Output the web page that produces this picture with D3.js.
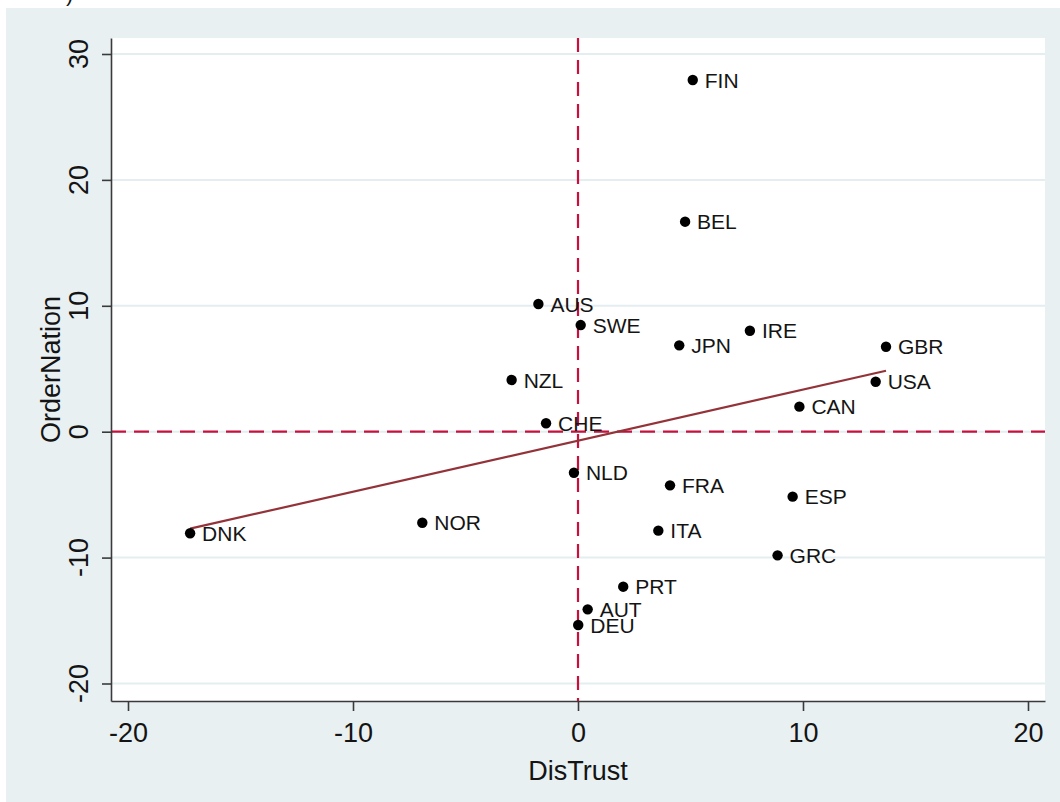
<!DOCTYPE html>
<html>
<head>
<meta charset="utf-8">
<script src="https://cdn.jsdelivr.net/npm/d3@7"></script>
<style>
  html, body { margin: 0; padding: 0; background: #ffffff; }
  svg { display: block; }
  text { font-family: "Liberation Sans", Arial, sans-serif; fill: #141414; }
</style>
</head>
<body>
<svg id="chart" width="1060" height="802"></svg>
<script>
// Country codes and their scores on the two dimensions
const countries = ["FIN","BEL","AUS","SWE","JPN","IRE","NZL","CHE","NLD","FRA","ESP",
                   "ITA","GRC","PRT","AUT","DEU","GBR","USA","CAN","DNK","NOR"];
const disTrust    = [5.10, 4.76, -1.76, 0.12, 4.50, 7.64, -2.95, -1.42, -0.18, 4.09, 9.54,
                     3.57, 8.87, 2.01, 0.43, 0.01, 13.69, 13.23, 9.84, -17.24, -6.92];
const orderNation = [27.93, 16.68, 10.14, 8.47, 6.86, 8.02, 4.11, 0.67, -3.26, -4.26, -5.16,
                     -7.86, -9.82, -12.31, -14.11, -15.35, 6.75, 3.97, 1.99, -8.07, -7.23];

const xTicks = [-20, -10, 0, 10, 20];
const yTicks = [-20, -10, 0, 10, 20, 30];
const xTitle = "DisTrust";
const yTitle = "OrderNation";

const W = 1060, H = 802;
const plot = { left: 111, right: 1045, top: 38, bottom: 701 };

const svg = d3.select("#chart");

// outer graph region
svg.append("rect").attr("x", 6).attr("y", 8).attr("width", W - 6).attr("height", H - 8)
  .attr("fill", "#e8f0f2");
// tail of the caption above the graph
svg.append("text").attr("x", 66).attr("y", 1).attr("font-size", 22).text(")");

// plot region
svg.append("rect").attr("x", plot.left).attr("y", plot.top)
  .attr("width", plot.right - plot.left).attr("height", plot.bottom - plot.top)
  .attr("fill", "#ffffff");

const x = d3.scaleLinear().domain([-20.756, 20.756]).range([plot.left, plot.right]);
const y = d3.scaleLinear().domain([-21.39, 31.27]).range([plot.bottom, plot.top]);

// horizontal grid lines
svg.append("g").selectAll("line").data(yTicks).join("line")
  .attr("x1", plot.left).attr("x2", plot.right)
  .attr("y1", d => y(d)).attr("y2", d => y(d))
  .attr("stroke", "#e4edf0").attr("stroke-width", 2);

// reference lines at zero
svg.append("line")
  .attr("x1", plot.left).attr("x2", plot.right).attr("y1", y(0)).attr("y2", y(0))
  .attr("stroke", "#c8103c").attr("stroke-width", 2.2).attr("stroke-dasharray", "15,8");
svg.append("line")
  .attr("x1", x(0)).attr("x2", x(0)).attr("y1", plot.top).attr("y2", plot.bottom)
  .attr("stroke", "#c8103c").attr("stroke-width", 2.2).attr("stroke-dasharray", "14,8");

// least-squares fit line over the observed range of DisTrust
const pts = countries.map((c, i) => ({ c, x: disTrust[i], y: orderNation[i] }));
const mx = d3.mean(pts, d => d.x), my = d3.mean(pts, d => d.y);
const slope = d3.sum(pts, d => (d.x - mx) * (d.y - my)) / d3.sum(pts, d => (d.x - mx) ** 2);
const icpt = my - slope * mx;
const [x0, x1] = d3.extent(pts, d => d.x);
svg.append("line")
  .attr("x1", x(x0)).attr("y1", y(icpt + slope * x0))
  .attr("x2", x(x1)).attr("y2", y(icpt + slope * x1))
  .attr("stroke", "#933339").attr("stroke-width", 2.2);

// markers and labels
const g = svg.append("g");
g.selectAll("circle").data(pts).join("circle")
  .attr("cx", d => x(d.x)).attr("cy", d => y(d.y)).attr("r", 5.2)
  .attr("fill", "#000000");
g.selectAll("text").data(pts).join("text")
  .attr("x", d => x(d.x) + 12).attr("y", d => y(d.y)).attr("dy", "0.36em")
  .attr("font-size", 21).text(d => d.c);

// x axis (plain hyphen for negatives)
const xAxis = svg.append("g").attr("transform", `translate(0,${plot.bottom})`)
  .call(d3.axisBottom(x).tickValues(xTicks).tickSize(10).tickPadding(12).tickSizeOuter(0)
    .tickFormat(d => String(d)));
xAxis.select(".domain").attr("stroke", "#3a3a3a").attr("stroke-width", 1.6);
xAxis.selectAll(".tick line").attr("stroke", "#3a3a3a").attr("stroke-width", 1.6);
xAxis.selectAll(".tick text").attr("font-size", 27).attr("fill", "#141414")
  .style("font-family", '"Liberation Sans", Arial, sans-serif');

// y axis with rotated labels
const yAxis = svg.append("g").attr("transform", `translate(${plot.left},0)`)
  .call(d3.axisLeft(y).tickValues(yTicks).tickSize(9).tickSizeOuter(0).tickFormat(""));
yAxis.select(".domain").attr("stroke", "#3a3a3a").attr("stroke-width", 1.6);
yAxis.selectAll(".tick line").attr("stroke", "#3a3a3a").attr("stroke-width", 1.6);
svg.append("g").selectAll("text").data(yTicks).join("text")
  .attr("transform", d => `translate(88,${y(d)}) rotate(-90)`)
  .attr("text-anchor", "middle").attr("font-size", 27).text(d => String(d));

// axis titles
svg.append("text").attr("x", x(0)).attr("y", 780).attr("text-anchor", "middle")
  .attr("font-size", 27).text(xTitle);
svg.append("text").attr("transform", `translate(60,${(plot.top + plot.bottom) / 2}) rotate(-90)`)
  .attr("text-anchor", "middle").attr("font-size", 27).text(yTitle);
</script>
</body>
</html>
